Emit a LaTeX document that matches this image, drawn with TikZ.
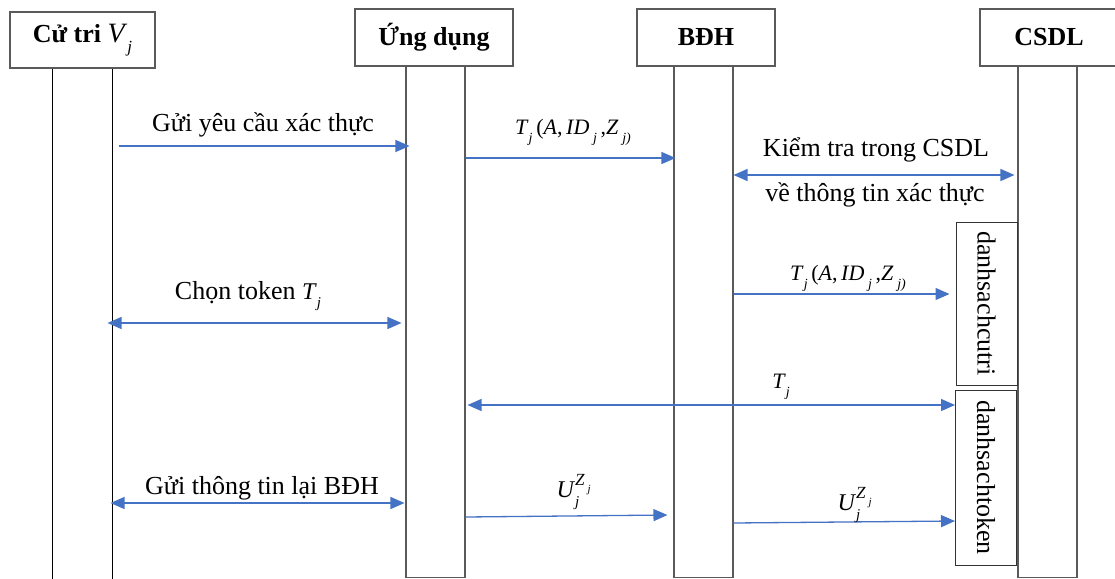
\documentclass[tikz,border=0pt]{standalone}
\usepackage{fontspec}
\setmainfont{Liberation Serif}
\usetikzlibrary{arrows.meta,calc}
\definecolor{msgblue}{RGB}{68,114,196}
\definecolor{edgegray}{RGB}{90,90,90}
% italic letter and lowered / raised small italic indices
\newcommand\mi[1]{\textit{#1}}
\newcommand\subj[2]{\raisebox{-0.36em}{\fontsize{#1}{#1}\selectfont\itshape #2}}
\newcommand\supj[2]{\raisebox{0.48em}{\fontsize{#1}{#1}\selectfont\itshape #2}}
% token tuple T_j(A, ID_j, Z_j)
\newcommand\tokentuple{\mi{T}\subj{14}{j}\,(\mi{A},\,\mi{ID}\,\subj{14}{j}\,,\mi{Z}\,\subj{14}{j)}}
% share U_j^{Z_j}
\newcommand\share{\mi{U}\rlap{\supj{17}{Z\,\subj{11}{j}}}\subj{15}{j}\hspace{1.0em}}
\tikzset{
  head/.style={draw=edgegray, line width=1.3pt, fill=white, inner sep=0pt,
    font=\fontsize{26}{30}\selectfont\bfseries},
  lifeline/.style={draw=edgegray, line width=1.1pt, minimum width=59pt, inner sep=0pt},
  listbox/.style={draw=black!80, line width=1pt, minimum width=61pt, inner sep=0pt,
    font=\fontsize{26}{30}\selectfont},
  tip/.style={},
  msg/.style={draw=msgblue, line width=1.3pt, -{Triangle[length=14pt,width=12pt]}},
  dmsg/.style={draw=msgblue, line width=1.3pt,
    {Triangle[length=14pt,width=12pt]}-{Triangle[length=14pt,width=12pt]}},
  lbl/.style={inner sep=0pt, font=\fontsize{26}{30}\selectfont},
  mlbl/.style={inner sep=0pt, font=\fontsize{22}{26}\selectfont},
}
\begin{document}
\begin{tikzpicture}[x=1pt, y=-1pt]
\useasboundingbox[fill=white] (0,0) rectangle (1115,578);

% lifelines
\node[lifeline, draw=none, minimum height=515pt] (vl) at (82.5,326) {};
\draw[black, line width=1.1pt] (vl.north west) -- (vl.south west)
  (vl.north east) -- (vl.south east);
\node[lifeline, minimum height=512pt] (al) at (435.5,321.5) {};
\node[lifeline, minimum height=512pt] (bl) at (703.5,321.5) {};
\node[lifeline, minimum height=512pt] (cl) at (1047.5,321.5) {};

% participant headers
\node[head, minimum width=145pt, minimum height=56pt] (voter) at (82.5,40)
  {Cử tri \textmd{\fontsize{28}{30}\selectfont\mi{V}\subj{17}{j}}};
\node[head, minimum width=158pt, minimum height=57pt] (app) at (434,37.5) {Ứng dụng};
\node[head, minimum width=138pt, minimum height=57pt] (ec) at (706,37.5) {BĐH};
\node[head, minimum width=138pt, minimum height=57pt] (db) at (1049,37.5) {CSDL};

% lists stored in the database
\node[listbox, minimum height=163pt] (dsc) at (986.5,303.5)
  {\rotatebox{-90}{danhsachcutri}};
\node[listbox, minimum height=175pt] (dst) at (986,477.5)
  {\rotatebox{-90}{danhsachtoken}};

% messages
\draw[msg] ($(vl.east|-0,146)+(6,0)$) -- ($(al.west|-0,146)+(4,0)$);
\node[lbl] (m1) at (263,125) {Gửi yêu cầu xác thực};

\draw[msg] (al.east|-0,158) -- ($(bl.west|-0,158)+(2,0)$);
\node[mlbl] (m2) at (573,132) {\tokentuple};

\draw[dmsg] (bl.east|-0,175) -- ($(cl.west|-0,175)+(-3,0)$);
\node[lbl] (m3a) at (876,150) {Kiểm tra trong CSDL};
\node[lbl] (m3b) at (875,195) {về thông tin xác thực};

\draw[msg] (bl.east|-0,294) -- ($(dsc.west|-0,294)+(-6,0)$);
\node[mlbl] (m4) at (848,278) {\tokentuple};

\draw[dmsg] ($(vl.east|-0,323)+(-5,0)$) -- ($(al.west|-0,323)+(-4,0)$);
\node[lbl] (m5) at (248,296) {Chọn token \fontsize{24}{28}\selectfont\mi{T}\subj{15}{j}};

\draw[dmsg] ($(al.east|-0,405)+(2,0)$) -- (dst.west|-0,405);
\node[mlbl] (m6) at (781,387) {\mi{T}\subj{14}{j}};

\draw[dmsg] ($(vl.east|-0,503)+(-2,0)$) -- ($(al.west|-0,503)+(-1,0)$);
\node[lbl] (m7) at (262,488) {Gửi thông tin lại BĐH};

\draw[msg] (al.east|-0,517) -- ($(bl.west|-0,515)+(-6,0)$);
\node[mlbl] (m8) at (568,492) {\fontsize{24}{26}\selectfont\share};

\draw[msg] (bl.east|-0,523) -- (dst.west|-0,521);
\node[mlbl] (m9) at (849,505) {\fontsize{24}{26}\selectfont\share};
\end{tikzpicture}
\end{document}
